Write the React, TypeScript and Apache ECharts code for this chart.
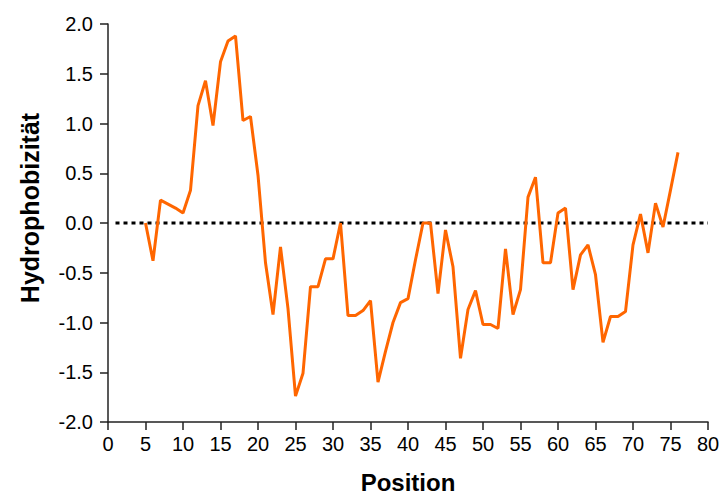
import React, { useEffect, useRef } from "react";
import * as echarts from "echarts";

const positions: number[] = [
  5, 6, 7, 8, 9, 10, 11, 12, 13, 14, 15, 16, 17, 18, 19, 20, 21, 22, 23, 24,
  25, 26, 27, 28, 29, 30, 31, 32, 33, 34, 35, 36, 37, 38, 39, 40, 41, 42, 43, 44,
  45, 46, 47, 48, 49, 50, 51, 52, 53, 54, 55, 56, 57, 58, 59, 60, 61, 62, 63, 64,
  65, 66, 67, 68, 69, 70, 71, 72, 73, 74, 75, 76,
];

const hydrophobicity: number[] = [
  0.0, -0.38, 0.23, 0.19, 0.15, 0.1, 0.33, 1.18, 1.43, 0.98, 1.62, 1.83, 1.88, 1.03, 1.07, 0.48, -0.4, -0.92, -0.24, -0.86,
  -1.74, -1.51, -0.64, -0.64, -0.36, -0.36, 0.0, -0.93, -0.93, -0.88, -0.78, -1.6, -1.29, -1.0, -0.8, -0.76, -0.37, 0.0, 0.0, -0.71,
  -0.07, -0.44, -1.36, -0.87, -0.68, -1.02, -1.02, -1.06, -0.26, -0.92, -0.67, 0.26, 0.46, -0.4, -0.4, 0.1, 0.15, -0.67, -0.32, -0.22,
  -0.52, -1.2, -0.94, -0.94, -0.89, -0.22, 0.09, -0.3, 0.2, -0.04, 0.33, 0.71,
];

const baselineStart = 1;
const baselineEnd = 80;
const baselineValue = 0;

const FONT = "'Liberation Sans', Arial, sans-serif";

export default function App() {
  const ref = useRef<HTMLDivElement>(null);

  useEffect(() => {
    if (!ref.current) return;
    const chart = echarts.init(ref.current, undefined, { renderer: "svg" });
    const axisColor = "#222";
    chart.setOption({
      animation: false,
      backgroundColor: "#fff",
      grid: { left: 108, right: 15, top: 24, bottom: 70.5, containLabel: false },
      xAxis: {
        type: "value",
        min: 0,
        max: 80,
        interval: 5,
        name: "Position",
        nameLocation: "middle",
        nameGap: 48,
        nameTextStyle: { fontFamily: FONT, fontSize: 24, fontWeight: "bold", color: "#000" },
        axisLine: { show: true, onZero: false, lineStyle: { color: axisColor, width: 1.5 } },
        axisTick: { show: true, length: 8, lineStyle: { color: axisColor, width: 1.5 } },
        axisLabel: { fontFamily: FONT, fontSize: 20, color: "#000", margin: 12 },
        splitLine: { show: false },
      },
      yAxis: {
        type: "value",
        min: -2,
        max: 2,
        interval: 0.5,
        name: "Hydrophobizität",
        nameLocation: "middle",
        nameGap: 66,
        nameTextStyle: {
          fontFamily: FONT,
          fontSize: 25,
          fontWeight: "bold",
          color: "#000",
          padding: [0, 0, 0, 30],
        },
        axisLine: { show: true, onZero: false, lineStyle: { color: axisColor, width: 1.5 } },
        axisTick: { show: true, length: 8, lineStyle: { color: axisColor, width: 1.5 } },
        axisLabel: {
          fontFamily: FONT,
          fontSize: 20,
          color: "#000",
          margin: 15,
          formatter: (v: number) => v.toFixed(1),
        },
        splitLine: { show: false },
      },
      series: [
        {
          type: "line",
          data: [
            [baselineStart, baselineValue],
            [baselineEnd, baselineValue],
          ],
          showSymbol: false,
          symbol: "none",
          lineStyle: { color: "#000", width: 3, type: [4, 4] },
          silent: true,
          z: 1,
        },
        {
          type: "line",
          data: positions.map((p, i) => [p, hydrophobicity[i]]),
          showSymbol: false,
          symbol: "none",
          lineStyle: { color: "#FF6600", width: 3 },
          z: 2,
        },
      ],
    });
    return () => chart.dispose();
  }, []);

  return <div ref={ref} style={{ width: 723, height: 499, position: "absolute", left: 0, top: 0 }} />;
}
